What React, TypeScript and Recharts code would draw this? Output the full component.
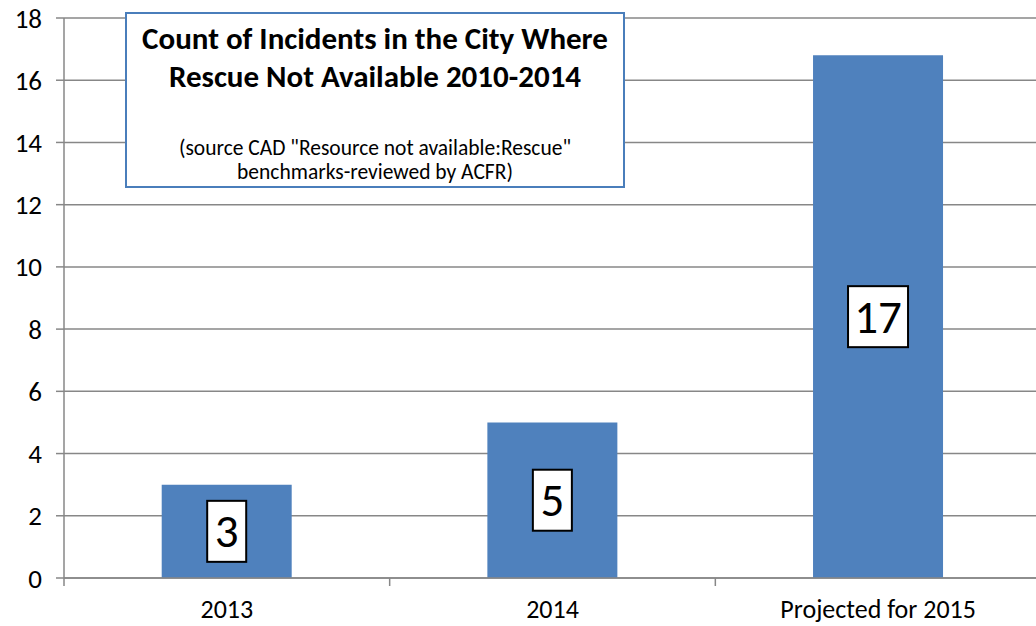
import { BarChart, Bar, XAxis, YAxis, CartesianGrid, LabelList } from 'recharts'

const categories = ['2013', '2014', 'Projected for 2015']
const counts = [3, 5, 16.8]
const countLabels = ['3', '5', '17']
const yTicks = [0, 2, 4, 6, 8, 10, 12, 14, 16, 18]

const titleLines = ['Count of Incidents in the City Where', 'Rescue Not Available 2010-2014']
const noteLines = ['(source CAD "Resource not available:Rescue"', 'benchmarks-reviewed by ACFR)']

const data = categories.map((c, i) => ({ name: c, value: counts[i], label: countLabels[i] }))

const FONT = 'Carlito, "Open Sans", "Noto Sans", sans-serif'
const GRID = '#878787'

const BoxLabel = (props: any) => {
  const { x, y, width, height, index } = props
  const text = countLabels[index]
  const cx = x + width / 2
  const cy = y + height / 2
  const w = text.length > 1 ? 60 : 39
  const h = 61
  return (
    <g>
      <rect x={cx - w / 2} y={cy - h / 2} width={w} height={h} fill="#fff" stroke="#000" strokeWidth={2} />
      <text x={cx} y={cy + 16} textAnchor="middle" fontSize={47} fontFamily={FONT} fill="#000">
        {text}
      </text>
    </g>
  )
}

const XTick = (props: any) => {
  const { x, y, payload, width } = props
  const band = (width || 976) / categories.length
  return (
    <g>
      <line x1={x - band / 2} y1={y - 8} x2={x - band / 2} y2={y} stroke={GRID} strokeWidth={1.5} />
      <text x={x} y={y + 32} textAnchor="middle" fontSize={26} fontFamily={FONT} fill="#000">
        {payload.value}
      </text>
    </g>
  )
}

const lines = (arr: string[]) =>
  arr.map((l, i) => (
    <span key={l}>
      {i > 0 && <br />}
      {l}
    </span>
  ))

export default function App() {
  return (
    <div style={{ position: 'absolute', left: 0, top: 0, width: 1036, height: 626, overflow: 'hidden', background: '#fff' }}>
      <BarChart
        width={1041}
        height={626}
        data={data}
        margin={{ top: 18, right: 0, left: 0, bottom: 0 }}
        barCategoryGap="30%"
      >
        <CartesianGrid horizontal vertical={false} stroke={GRID} strokeWidth={1.5} />
        <XAxis
          dataKey="name"
          height={48}
          axisLine={{ stroke: GRID, strokeWidth: 1.5 }}
          tickLine={false}
          tick={<XTick />}
          interval={0}
        />
        <YAxis
          width={64}
          domain={[0, 18]}
          ticks={yTicks}
          interval={0}
          tickSize={8}
          axisLine={{ stroke: GRID, strokeWidth: 1.5 }}
          tickLine={{ stroke: GRID, strokeWidth: 1.5 }}
          tick={{ fill: '#000', fontSize: 27, fontFamily: FONT }}
          tickMargin={14}
        />
        <Bar dataKey="value" fill="#4f81bd" isAnimationActive={false}>
          <LabelList dataKey="label" content={<BoxLabel />} />
        </Bar>
      </BarChart>
      <div
        style={{
          position: 'absolute',
          left: 125,
          top: 12,
          width: 496,
          height: 172,
          border: '2px solid #4a7ebb',
          background: '#fff',
          fontFamily: FONT,
          textAlign: 'center',
          color: '#000',
        }}
      >
        <div style={{ position: 'absolute', left: 0, right: 0, top: 5, fontWeight: 700, fontSize: 31, lineHeight: '38px', whiteSpace: 'nowrap' }}>
          {lines(titleLines)}
        </div>
        <div style={{ position: 'absolute', left: 0, right: 0, top: 122, fontSize: 21.5, lineHeight: '24px', whiteSpace: 'nowrap' }}>
          {lines(noteLines)}
        </div>
      </div>
    </div>
  )
}
